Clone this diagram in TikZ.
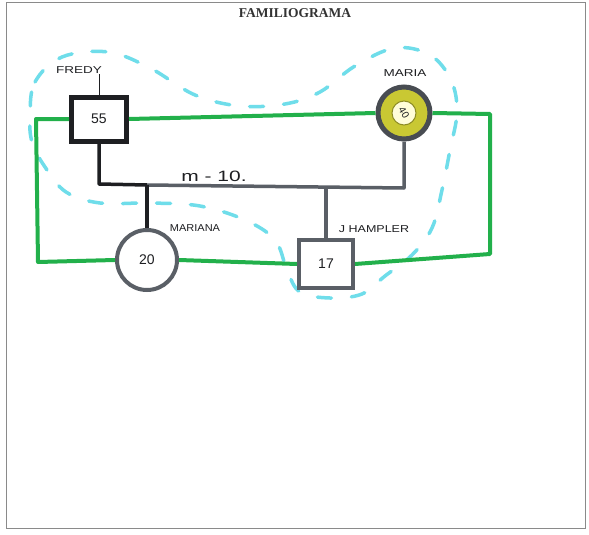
\documentclass[tikz,border=0pt]{standalone}
\usepackage{fontspec}
\setmainfont{Liberation Serif}
\newfontfamily\hand{Liberation Sans}
\definecolor{gline}{HTML}{22B04B}
\definecolor{bdash}{HTML}{6FDDEA}
\definecolor{dk}{HTML}{1E1F22}
\definecolor{gy}{HTML}{5A5F66}
\definecolor{ylw}{HTML}{C9C833}
\definecolor{frame}{HTML}{8A8A8A}
\tikzset{
  gconn/.style={draw=gline,line width=4pt,line join=round},
  kconn/.style={draw=dk,line width=3.5pt,line join=round},
  gyconn/.style={draw=gy,line width=3.5pt,line join=round},
  hlabel/.style={font=\hand\fontsize{10}{10}\selectfont,text=dk,inner sep=0pt},
  numtxt/.style={font=\hand\fontsize{14}{14}\selectfont,text=dk},
  loopdash/.style={draw=bdash,line width=3.5pt,line cap=round,dash pattern=on 14pt off 20pt},
}
\begin{document}
\begin{tikzpicture}[x=1pt,y=-1pt]
\useasboundingbox (0,0) rectangle (589,535);
\fill[white] (0,0) rectangle (589,535);
% page frame
\draw[frame,line width=1pt] (6,3) rectangle (585,528);
% title
\node[font=\bfseries\fontsize{13.5}{14}\selectfont,text=black!80] (title) at (295,13) {FAMILIOGRAMA};

% blue dashed loop (behind)
\draw[loopdash] plot[smooth cycle,tension=0.6] coordinates {
 (30,115) (35,82) (62,57) (108,52) (150,68) (195,95) (240,106) (285,104)
 (320,92) (355,66) (395,48) (430,55) (451,80) (457,112) (450,150) (442,190)
 (432,228) (412,255) (385,276) (362,294) (330,298) (300,292) (287,270)
 (275,240) (245,220) (200,206) (150,203) (100,203) (66,192) (45,167) (32,142)};

% nodes
\node[draw=dk,line width=5pt,fill=white,minimum width=55pt,minimum height=44pt,inner sep=0pt] (fredy) at (99,119) {};
\node[numtxt] (n55) at (fredy.center) {55};
\node[circle,draw=gy!80!black,line width=5pt,fill=ylw,minimum size=52pt,inner sep=0pt] (maria) at (404,113) {};
\node[circle,fill=white!85!yellow,draw=ylw!70!black,line width=1pt,minimum size=24pt,inner sep=0pt,font=\hand\fontsize{10}{10}\selectfont,text=dk] (mariain) at (maria.center) {\rotatebox{-60}{40}};
\node[circle,draw=gy,line width=4pt,fill=white,minimum size=60pt,inner sep=0pt] (mariana) at (147,260) {};
\node[numtxt] (n20) at (mariana.center) {20};
\node[draw=gy,line width=4pt,fill=white,minimum width=54pt,minimum height=48pt,inner sep=0pt] (jh) at (326,264) {};
\node[numtxt] (n17) at (jh.center) {17};

% coordinates
\coordinate (gL1) at (36,119);
\coordinate (gL2) at (38,262);
\coordinate (gR1) at (490,114);
\coordinate (gR2) at (490,254);
\coordinate (m1) at (fredy.south |- 0,184);
\coordinate (c1) at (mariana.north |- 0,185);
\coordinate (m2) at (maria.south |- 0,188);
\coordinate (c2) at (jh.north |- 0,187);
\coordinate (ftick) at (fredy.north |- 0,74);

% green connectors
\draw[gconn] (fredy.west) -- (gL1) -- (gL2) -- (mariana.west);
\draw[gconn] (fredy.east) -- (maria.west);
\draw[gconn] (maria.east) -- (gR1) -- (gR2) -- (jh.east);
\draw[gconn] (mariana.east) -- (jh.west);

% family lines
\draw[kconn] (fredy.south) -- (m1) -- (c1);
\draw[gyconn] (c1) -- (m2) -- (maria.south);
\draw[kconn] (c1) -- (mariana.north);
\draw[gyconn] (c2) -- (jh.north);
\draw[draw=dk,line width=1pt] (fredy.north) -- (ftick);

% labels
\node[hlabel,anchor=south east] (fredylbl) at ([xshift=3pt]ftick) {\scalebox{1.35}[1]{FREDY}};
\node[hlabel] (marialbl) at (405,73) {\scalebox{1.35}[1]{MARIA}};
\node[hlabel] (marianalbl) at (195,228) {\scalebox{1.1}[1]{MARIANA}};
\node[hlabel] (jhlbl) at (374,229) {\scalebox{1.25}[1]{J HAMPLER}};
\node[font=\hand\fontsize{15}{15}\selectfont,text=dk] (mlbl) at (214,176) {\scalebox{1.4}[1]{m - 10.}};
\end{tikzpicture}
\end{document}
